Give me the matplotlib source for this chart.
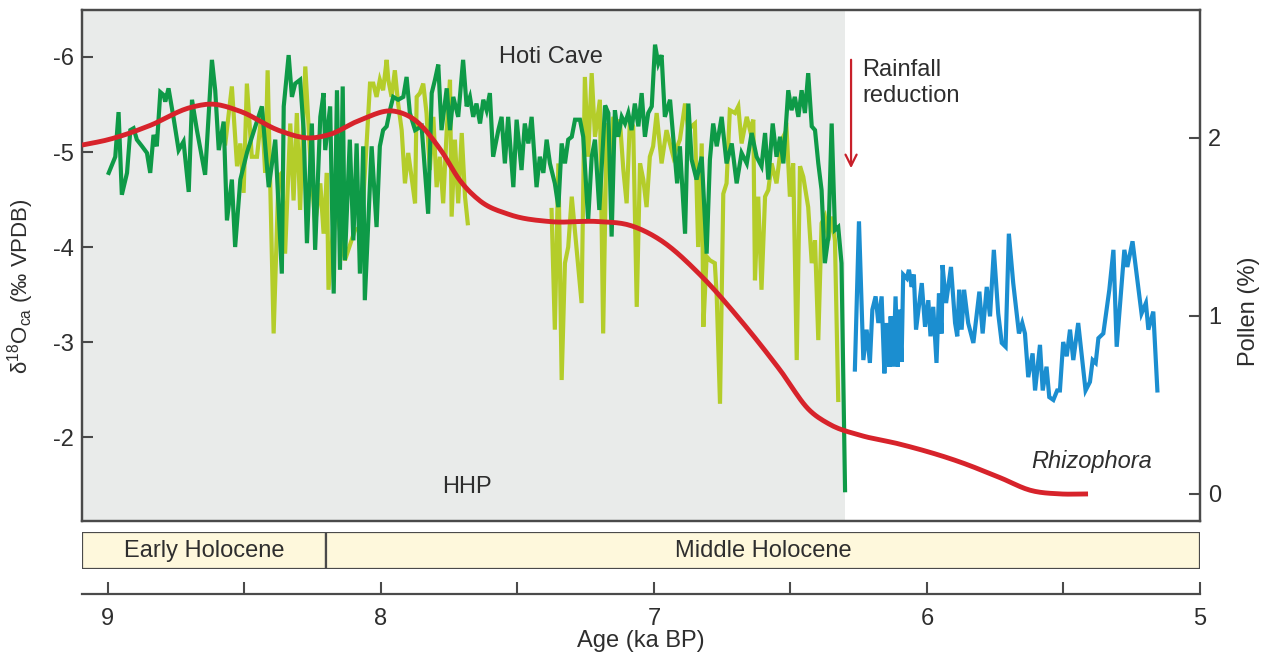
import numpy as np
import matplotlib.pyplot as plt

plt.rcParams['font.family'] = ['Liberation Sans', 'DejaVu Sans']
plt.rcParams['axes.unicode_minus'] = False
plt.rcParams['mathtext.fontset'] = 'custom'
plt.rcParams['mathtext.rm'] = 'Liberation Sans'

# Hoti Cave stalagmite (dark green), age ka BP / d18O
hoti1_age = [8.997, 8.973, 8.961, 8.949, 8.930, 8.918, 8.906, 8.894, 8.875, 8.857,
             8.845, 8.833, 8.821, 8.808, 8.796, 8.790, 8.778, 8.759, 8.741, 8.723,
             8.704, 8.692, 8.674, 8.644, 8.619, 8.607, 8.594, 8.576, 8.564, 8.546,
             8.534, 8.515, 8.490, 8.460, 8.436, 8.411, 8.387, 8.363, 8.356, 8.338,
             8.326, 8.314, 8.296, 8.283, 8.271, 8.253, 8.241, 8.222, 8.210, 8.204,
             8.186, 8.173, 8.161, 8.150, 8.140, 8.132, 8.114, 8.101, 8.089, 8.077,
             8.065, 8.059, 8.047, 8.034, 8.016, 8.004, 7.992, 7.979, 7.967, 7.955,
             7.937, 7.918, 7.906, 7.894, 7.875, 7.851, 7.827, 7.814, 7.802, 7.790,
             7.778, 7.759, 7.747, 7.735, 7.717, 7.699, 7.686, 7.674, 7.662, 7.650,
             7.637, 7.625, 7.613, 7.601, 7.589, 7.570, 7.558, 7.546, 7.534, 7.515,
             7.503, 7.485, 7.473, 7.460, 7.448, 7.430, 7.418, 7.405, 7.393, 7.381,
             7.363, 7.350, 7.338, 7.326, 7.314, 7.301, 7.289, 7.271, 7.259, 7.241,
             7.228, 7.216, 7.200, 7.179, 7.167, 7.155, 7.143, 7.131, 7.118, 7.106,
             7.094, 7.082, 7.070, 7.057, 7.045, 7.033, 7.021, 7.008, 6.996, 6.984,
             6.972, 6.960, 6.941, 6.923, 6.915, 6.905, 6.886, 6.874, 6.862, 6.844,
             6.825, 6.807, 6.795, 6.783, 6.770, 6.752, 6.734, 6.715, 6.697, 6.679,
             6.660, 6.642, 6.624, 6.606, 6.593, 6.581, 6.565, 6.551, 6.538, 6.526,
             6.508, 6.496, 6.484, 6.471, 6.459, 6.447, 6.435, 6.422, 6.410, 6.398,
             6.386, 6.374, 6.361, 6.349, 6.337, 6.325, 6.313, 6.300]
hoti1_d18o = [-4.78, -4.95, -5.42, -4.55, -4.78, -5.23, -5.25, -5.13, -5.06, -4.99,
              -4.78, -5.18, -5.06, -5.63, -5.60, -5.53, -5.67, -5.35, -5.02, -5.11,
              -4.58, -5.55, -5.23, -4.76, -5.97, -5.65, -5.02, -5.32, -4.28, -4.71,
              -4.00, -4.71, -5.00, -5.27, -5.48, -4.63, -5.13, -3.72, -5.48, -6.02,
              -5.58, -5.72, -5.76, -5.23, -4.04, -5.30, -3.97, -5.37, -5.62, -5.02,
              -5.48, -3.51, -5.65, -3.76, -5.69, -3.86, -5.13, -4.07, -5.09, -3.72,
              -5.06, -3.44, -4.21, -5.06, -4.21, -5.06, -5.23, -5.27, -5.44, -5.58,
              -5.55, -5.58, -5.79, -5.41, -5.23, -5.27, -4.35, -5.62, -5.76, -5.92,
              -5.23, -5.67, -5.23, -5.58, -5.37, -5.97, -5.48, -5.58, -5.37, -5.51,
              -5.30, -5.55, -5.44, -5.62, -4.95, -5.23, -5.37, -4.88, -5.37, -4.63,
              -5.34, -4.81, -5.30, -5.09, -5.37, -4.63, -4.95, -4.78, -5.13, -4.88,
              -4.67, -4.42, -5.09, -4.88, -5.13, -5.16, -5.34, -5.34, -5.16, -4.28,
              -4.95, -5.13, -4.39, -5.49, -5.41, -4.11, -5.44, -5.16, -5.37, -5.30,
              -5.41, -5.23, -5.51, -5.27, -5.62, -5.16, -5.41, -5.48, -6.13, -5.93,
              -6.02, -5.37, -5.55, -4.95, -4.67, -5.06, -4.14, -5.51, -4.92, -4.71,
              -4.95, -3.93, -4.92, -5.30, -5.06, -5.37, -4.88, -5.09, -4.67, -4.99,
              -4.88, -5.20, -4.95, -4.85, -5.20, -4.71, -5.30, -4.95, -5.16, -4.88,
              -5.65, -5.44, -5.58, -5.37, -5.65, -5.41, -5.83, -5.27, -5.23, -4.88,
              -4.60, -3.83, -4.11, -5.30, -4.18, -4.21, -3.83, -1.44]

# second Hoti record (light green); NaN marks the hiatus
hoti2_age = [8.570, 8.546, 8.527, 8.515, 8.503, 8.491, 8.473, 8.454, 8.436, 8.424,
             8.415, 8.393, 8.375, 8.363, 8.351, 8.332, 8.320, 8.308, 8.296, 8.277,
             8.259, 8.241, 8.222, 8.210, 8.198, 8.192, 8.168, 8.132, 8.095, 8.071,
             8.053, 8.040, 8.028, 8.016, 8.004, 7.992, 7.979, 7.973, 7.961, 7.949,
             7.937, 7.924, 7.912, 7.900, 7.888, 7.875, 7.869, 7.857, 7.845, 7.833,
             7.821, 7.808, 7.796, 7.784, 7.772, 7.759, 7.747, 7.741, 7.729, 7.717,
             7.704, 7.692, 7.682, 7.530, 7.375, 7.363, 7.350, 7.338, 7.326, 7.314,
             7.301, 7.283, 7.265, 7.253, 7.241, 7.228, 7.216, 7.198, 7.186, 7.173,
             7.161, 7.149, 7.137, 7.125, 7.112, 7.100, 7.088, 7.076, 7.063, 7.051,
             7.039, 7.027, 7.015, 7.003, 6.990, 6.972, 6.954, 6.929, 6.905, 6.886,
             6.874, 6.862, 6.850, 6.838, 6.825, 6.819, 6.807, 6.795, 6.777, 6.770,
             6.758, 6.746, 6.734, 6.722, 6.703, 6.691, 6.679, 6.660, 6.648, 6.636,
             6.630, 6.618, 6.606, 6.593, 6.581, 6.569, 6.551, 6.532, 6.514, 6.502,
             6.490, 6.477, 6.465, 6.453, 6.435, 6.422, 6.410, 6.398, 6.386, 6.374,
             6.361, 6.349, 6.337, 6.325]
hoti2_d18o = [-5.09, -5.69, -4.85, -5.09, -4.57, -5.72, -4.95, -4.95, -5.44, -4.78,
              -5.86, -3.09, -4.74, -4.78, -3.93, -5.30, -4.49, -5.41, -4.39, -5.90,
              -4.95, -4.25, -4.67, -4.14, -4.78, -3.55, -4.49, -3.86, -4.18, -4.21,
              -5.06, -5.72, -5.72, -5.58, -5.76, -5.65, -5.97, -5.76, -5.58, -5.86,
              -5.51, -5.23, -4.67, -4.99, -4.74, -4.46, -5.58, -5.62, -5.72, -5.41,
              -4.81, -5.37, -4.63, -4.95, -4.46, -5.23, -5.76, -4.32, -5.13, -4.46,
              -5.20, -4.53, -4.25, np.nan, -4.39, -3.13, -4.88, -2.60, -3.83, -4.00,
              -4.53, -3.97, -3.41, -5.79, -4.95, -5.83, -5.16, -5.55, -3.09, -5.30,
              -4.95, -5.37, -5.23, -5.34, -4.81, -4.46, -5.34, -5.27, -3.37, -4.88,
              -4.71, -4.42, -4.95, -5.06, -5.41, -4.88, -5.23, -4.95, -5.13, -5.51,
              -5.23, -5.27, -5.30, -4.00, -5.09, -3.16, -3.90, -3.86, -3.83, -3.48,
              -2.35, -4.56, -4.67, -5.44, -5.41, -5.48, -5.09, -5.37, -5.23, -5.34,
              -3.65, -4.53, -3.55, -4.53, -4.60, -4.88, -4.67, -5.13, -5.23, -4.53,
              -4.88, -2.81, -4.85, -4.74, -4.42, -3.83, -4.07, -3.02, -4.25, -4.32,
              -4.07, -4.32, -4.07, -2.39]

# younger record (blue)
blue_age = [6.264, 6.249, 6.233, 6.221, 6.209, 6.200, 6.188, 6.178, 6.166, 6.156,
            6.148, 6.138, 6.133, 6.123, 6.115, 6.107, 6.101, 6.093, 6.087, 6.074,
            6.066, 6.056, 6.048, 6.040, 6.019, 6.007, 5.995, 5.987, 5.977, 5.965,
            5.956, 5.946, 5.943, 5.930, 5.912, 5.897, 5.889, 5.882, 5.873, 5.864,
            5.849, 5.830, 5.808, 5.796, 5.781, 5.769, 5.755, 5.739, 5.726, 5.712,
            5.700, 5.684, 5.663, 5.651, 5.641, 5.629, 5.613, 5.604, 5.586, 5.576,
            5.562, 5.552, 5.537, 5.523, 5.513, 5.501, 5.488, 5.476, 5.464, 5.446,
            5.419, 5.403, 5.393, 5.382, 5.372, 5.354, 5.332, 5.317, 5.305, 5.277,
            5.266, 5.247, 5.214, 5.198, 5.189, 5.171, 5.156]
blue_d18o = [-2.71, -4.27, -2.81, -3.13, -2.78, -3.34, -3.48, -3.20, -3.48, -2.67,
             -3.20, -2.74, -3.27, -2.74, -3.48, -2.74, -3.34, -2.79, -3.71, -3.67,
             -3.76, -3.58, -3.71, -3.13, -3.62, -3.16, -3.44, -3.06, -3.37, -2.78,
             -3.51, -3.09, -3.81, -3.41, -3.79, -3.20, -3.06, -3.55, -3.13, -3.55,
             -3.20, -2.99, -3.53, -3.09, -3.58, -3.27, -3.97, -3.30, -2.99, -2.95,
             -4.14, -3.62, -3.09, -3.20, -3.09, -2.63, -2.88, -2.49, -2.97, -2.49,
             -2.74, -2.42, -2.39, -2.49, -2.49, -3.00, -2.85, -3.13, -2.81, -3.20,
             -2.49, -2.58, -2.81, -2.78, -3.04, -3.09, -3.55, -3.97, -2.95, -3.97,
             -3.79, -4.06, -3.30, -3.41, -3.13, -3.32, -2.49]

# Rhizophora pollen (%)
rhizo_age = [9.095, 9.000, 8.846, 8.700, 8.620, 8.516, 8.370, 8.260, 8.187, 8.077,
             7.950, 7.875, 7.780, 7.710, 7.640, 7.530, 7.380, 7.200, 7.090, 6.980,
             6.830, 6.685, 6.540, 6.430, 6.355, 6.245, 6.100, 5.880, 5.730, 5.620,
             5.510, 5.410]
rhizo_pct = [1.96, 1.99, 2.07, 2.17, 2.19, 2.15, 2.04, 2.00, 2.02, 2.10,
             2.15, 2.10, 1.93, 1.76, 1.65, 1.57, 1.53, 1.53, 1.51, 1.43,
             1.23, 0.98, 0.70, 0.47, 0.39, 0.33, 0.28, 0.18, 0.09, 0.02,
             0.00, 0.00]

period_names = ['Early Holocene', 'Middle Holocene']
period_start = [9.095, 8.2]
period_end = [8.2, 5.0]

age_ticks = [9, 8.5, 8, 7.5, 7, 6.5, 6, 5.5, 5]
age_labels = ['9', '', '8', '', '7', '', '6', '', '5']

XMIN, XMAX = 9.095, 5.0
HHP_END = 6.30
SPINE = '#4a4a4a'
TXT = '#2e2e2e'
FS = 17


def smooth(x, y, n=400):
    x = np.asarray(x)[::-1]
    y = np.asarray(y)[::-1]
    xs = np.linspace(x[0], x[-1], n)
    m = np.gradient(y, x)
    out = np.empty_like(xs)
    for i, xv in enumerate(xs):
        k = min(max(np.searchsorted(x, xv) - 1, 0), len(x) - 2)
        h = x[k + 1] - x[k]
        t = (xv - x[k]) / h
        h00 = 2 * t**3 - 3 * t**2 + 1
        h10 = t**3 - 2 * t**2 + t
        h01 = -2 * t**3 + 3 * t**2
        h11 = t**3 - t**2
        out[i] = h00 * y[k] + h10 * h * m[k] + h01 * y[k + 1] + h11 * h * m[k + 1]
    return xs, out


fig = plt.figure(figsize=(12.69, 6.56), dpi=100)
ax = fig.add_axes([0.0646, 0.2058, 0.881, 0.779])

ax.axvspan(XMIN, HHP_END, color='#e9ebea', lw=0, zorder=0)
ax.plot(hoti2_age, hoti2_d18o, color='#b4cd2a', lw=3.0, zorder=2, solid_joinstyle='miter')
ax.plot(hoti1_age, hoti1_d18o, color='#0e9a47', lw=3.0, zorder=3, solid_joinstyle='miter')
ax.plot(blue_age, blue_d18o, color='#1b8ed0', lw=3.0, zorder=3, solid_joinstyle='miter')

ax.set_xlim(XMIN, XMAX)
ax.set_ylim(-1.116, -6.495)
ax.set_yticks([-6, -5, -4, -3, -2])
ax.set_xticks([])
ax.tick_params(axis='y', direction='in', length=8, width=1.5, color=SPINE,
               labelsize=FS, labelcolor=TXT, pad=6)
for s in ax.spines.values():
    s.set_color(SPINE)
    s.set_linewidth(1.6)
ax.set_ylabel(r'$\mathregular{\delta^{18}O_{ca}}$ (‰ VPDB)', fontsize=16, color=TXT)
ax.yaxis.set_label_coords(-0.041, 0.46)

ax.text(7.377, -6.0, 'Hoti Cave', fontsize=FS, color=TXT, ha='center', va='center')
ax.text(7.685, -1.47, 'HHP', fontsize=FS, color=TXT, ha='center', va='center')
ax.text(6.238, -5.975, 'Rainfall\nreduction', fontsize=FS, color=TXT,
        ha='left', va='top', linespacing=1.2)
ax.annotate('', xy=(6.278, -4.8), xytext=(6.278, -6.0),
            arrowprops=dict(arrowstyle='->', color='#c8202a', lw=1.6,
                            mutation_scale=20))
ax.text(5.396, -1.74, 'Rhizophora', fontsize=FS, style='italic', color=TXT,
        ha='center', va='center')

ax2 = ax.twinx()
rx, ry = smooth(rhizo_age, rhizo_pct)
ax2.plot(rx, ry, color='#d7232b', lw=3.5, zorder=4, solid_capstyle='butt')
ax2.set_ylim(-0.152, 2.719)
ax2.set_yticks([0, 1, 2])
ax2.tick_params(axis='y', direction='in', length=8, width=1.5, color=SPINE,
                labelsize=FS, labelcolor=TXT, pad=6)
for s in ax2.spines.values():
    s.set_color(SPINE)
    s.set_linewidth(1.6)
ax2.set_ylabel('Pollen (%)', fontsize=FS, color=TXT)
ax2.yaxis.set_label_coords(1.034, 0.41)

# epoch band
axb = fig.add_axes([0.0646, 0.1326, 0.881, 0.0564])
for name, a0, a1 in zip(period_names, period_start, period_end):
    axb.barh(0.5, a1 - a0, left=a0, height=1.0, color='#fef8dc',
             edgecolor=SPINE, lw=1.6)
    axb.text((a0 + a1) / 2, 0.5, name, fontsize=FS, color=TXT,
             ha='center', va='center')
axb.set_xlim(XMIN, XMAX)
axb.set_ylim(0, 1)
axb.axis('off')

# age axis
axa = fig.add_axes([0.0646, 0.0945, 0.881, 0.02])
axa.set_xlim(XMIN, XMAX)
axa.set_yticks([])
for k in ['top', 'left', 'right']:
    axa.spines[k].set_visible(False)
axa.spines['bottom'].set_color(SPINE)
axa.spines['bottom'].set_linewidth(1.6)
axa.patch.set_alpha(0)
axa.set_xticks(age_ticks)
axa.set_xticklabels(age_labels)
axa.tick_params(axis='x', direction='in', length=9, width=1.5, color=SPINE,
                labelsize=FS, labelcolor=TXT, pad=10)
axa.set_xlabel('Age (ka BP)', fontsize=FS, color=TXT, labelpad=0)

fig.savefig('out.png', dpi=100)
